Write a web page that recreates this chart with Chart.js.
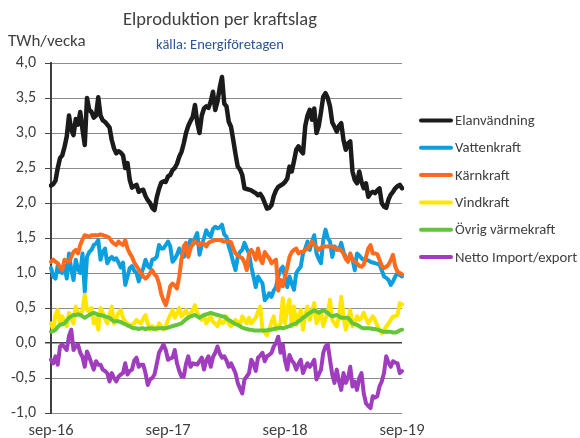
<!DOCTYPE html>
<html>
<head>
<meta charset="utf-8">
<script src="https://cdn.jsdelivr.net/npm/chart.js@4.4.1/dist/chart.umd.min.js"></script>
<style>
html,body{margin:0;padding:0;background:#fff;}
#wrap{position:relative;width:580px;height:438px;}
canvas{display:block;}
</style>
</head>
<body>
<div id="wrap"><canvas id="c" width="580" height="438"></canvas></div>
<script>
// ---- Data (TWh/vecka, weekly, sep-2016 .. sep-2019) ----
const seriesNames = ['Elanvändning','Vattenkraft','Kärnkraft','Vindkraft','Övrig värmekraft','Netto Import/export'];
const tickLabels = ['sep-16','sep-17','sep-18','sep-19'];
const tickWeeks = [0, 52, 104, 156];
const yTicks = [-1.0,-0.5,0.0,0.5,1.0,1.5,2.0,2.5,3.0,3.5,4.0];

const elanvandning = [
2.25,2.27,2.32,2.50,2.64,2.68,2.80,2.95,3.25,3.05,2.97,3.20,3.12,3.30,3.05,2.83,3.50,3.33,3.30,3.22,
3.25,3.51,3.25,3.18,3.16,3.12,3.08,2.90,2.78,2.71,2.74,2.72,2.68,2.50,2.57,2.33,2.22,2.24,2.26,2.16,
2.18,2.19,2.10,2.04,2.00,1.93,1.90,2.08,2.20,2.29,2.31,2.30,2.38,2.40,2.47,2.50,2.56,2.66,2.73,2.85,
3.00,3.10,3.17,3.23,3.40,3.15,3.00,3.25,3.35,3.38,3.36,3.45,3.59,3.33,3.45,3.65,3.80,3.42,3.38,3.16,
3.09,2.90,2.70,2.52,2.48,2.40,2.21,2.20,2.19,2.18,2.16,2.14,2.11,2.13,2.08,2.00,1.92,1.93,1.97,2.10,
2.18,2.23,2.25,2.27,2.30,2.35,2.52,2.45,2.60,2.76,2.81,2.75,2.71,3.10,3.25,3.33,3.19,3.35,3.00,3.10,
3.30,3.52,3.57,3.50,3.38,3.15,3.09,3.02,3.10,3.14,2.90,2.76,2.85,2.88,2.45,2.33,2.28,2.45,2.30,2.21,
2.28,2.09,2.14,2.16,2.14,2.18,2.21,2.00,1.95,1.93,2.05,2.12,2.16,2.21,2.24,2.26,2.21];

const vattenkraft = [
1.07,0.95,0.92,1.11,1.02,1.00,1.11,0.92,1.28,1.05,0.90,1.19,1.05,1.00,1.28,0.73,1.23,1.30,1.33,1.40,
1.42,1.47,1.19,1.30,1.35,1.14,1.20,1.23,1.19,1.21,1.15,1.08,1.15,0.83,0.95,1.07,1.10,1.03,1.00,0.88,
0.98,1.07,1.19,1.10,1.07,1.19,1.20,1.23,1.40,1.35,1.35,1.40,1.45,1.38,1.16,1.20,1.26,1.35,1.28,1.23,
1.30,1.40,1.47,1.40,1.50,1.57,1.26,1.40,1.50,1.61,1.55,1.52,1.63,1.66,1.64,1.65,1.69,1.55,1.52,1.38,
1.28,1.15,1.04,1.23,1.30,1.33,1.43,1.35,1.28,1.09,0.95,0.80,0.95,0.90,0.85,0.61,0.65,0.71,0.66,0.75,
0.80,0.95,1.05,1.09,0.95,0.80,0.95,0.85,0.76,1.00,1.05,1.09,1.28,1.35,1.45,1.33,1.45,1.54,1.28,1.20,
1.14,1.47,1.62,1.50,1.45,1.23,1.38,1.35,1.33,1.43,1.30,1.23,1.19,1.23,1.20,1.04,1.28,1.25,1.21,1.19,
1.19,1.18,1.16,1.15,1.14,1.13,1.12,1.04,0.95,0.93,0.90,0.83,0.88,0.95,1.00,0.97,0.95];

const karnkraft = [
1.16,1.19,1.16,1.14,1.08,1.04,1.19,1.17,1.16,1.23,1.30,1.33,1.28,1.40,1.48,1.54,1.53,1.52,1.54,1.54,
1.54,1.54,1.55,1.54,1.53,1.52,1.50,1.45,1.42,1.40,1.45,1.42,1.40,1.47,1.35,1.28,1.23,1.15,1.10,1.05,
1.00,0.95,0.92,0.95,1.00,1.04,0.98,0.95,0.85,0.70,0.61,0.54,0.65,0.81,0.85,0.82,0.78,0.95,1.20,1.38,
1.43,1.23,1.35,1.43,1.45,1.42,1.40,1.43,1.42,1.38,1.43,1.45,1.46,1.47,1.47,1.47,1.46,1.45,1.45,1.45,
1.44,1.35,1.28,1.25,1.23,1.21,1.15,1.04,1.28,1.33,1.28,1.19,1.35,1.20,1.14,1.30,1.25,1.21,1.14,1.17,
1.19,0.75,0.90,0.81,0.95,1.08,1.23,1.30,1.33,1.35,1.28,1.30,1.30,1.33,1.35,1.40,1.45,1.40,1.37,1.33,
1.36,1.38,1.38,1.38,1.38,1.38,1.36,1.33,1.35,1.32,1.28,1.20,1.16,1.28,1.19,1.16,1.14,1.10,1.09,1.12,
1.23,1.35,1.40,1.28,1.28,1.27,1.19,1.10,1.07,1.09,1.12,1.18,1.26,1.09,1.02,1.00,0.98];

const vindkraft = [
0.28,0.19,0.40,0.47,0.28,0.38,0.30,0.24,0.43,0.35,0.28,0.52,0.43,0.40,0.47,0.69,0.47,0.45,0.50,0.28,
0.35,0.19,0.50,0.43,0.35,0.28,0.40,0.52,0.28,0.35,0.43,0.47,0.36,0.30,0.28,0.24,0.26,0.28,0.33,0.30,
0.28,0.35,0.40,0.28,0.19,0.24,0.22,0.19,0.28,0.24,0.19,0.24,0.33,0.40,0.47,0.36,0.42,0.50,0.38,0.42,
0.47,0.38,0.42,0.47,0.54,0.43,0.38,0.33,0.38,0.28,0.33,0.38,0.30,0.28,0.24,0.33,0.28,0.30,0.38,0.28,
0.24,0.28,0.33,0.30,0.26,0.38,0.33,0.28,0.36,0.28,0.32,0.36,0.45,0.52,0.19,0.15,0.11,0.19,0.30,0.38,
0.19,0.24,0.28,0.64,0.28,0.50,0.62,0.24,0.52,0.26,0.38,0.47,0.19,0.40,0.52,0.33,0.45,0.57,0.28,0.35,
0.43,0.24,0.35,0.43,0.62,0.33,0.28,0.24,0.38,0.66,0.38,0.19,0.30,0.47,0.24,0.30,0.38,0.33,0.36,0.43,
0.35,0.28,0.33,0.38,0.33,0.25,0.19,0.14,0.18,0.24,0.28,0.33,0.38,0.38,0.40,0.57,0.55];

const ovrigVarmekraft = [
0.16,0.17,0.19,0.23,0.26,0.27,0.28,0.32,0.36,0.38,0.40,0.40,0.41,0.40,0.38,0.36,0.38,0.40,0.42,0.43,
0.42,0.40,0.40,0.39,0.38,0.37,0.36,0.33,0.31,0.31,0.31,0.30,0.28,0.27,0.25,0.24,0.22,0.21,0.21,0.20,
0.21,0.21,0.20,0.21,0.21,0.21,0.20,0.21,0.21,0.21,0.21,0.21,0.22,0.23,0.24,0.25,0.26,0.27,0.28,0.31,
0.34,0.36,0.38,0.39,0.40,0.38,0.36,0.38,0.40,0.41,0.42,0.43,0.42,0.41,0.40,0.39,0.38,0.38,0.35,0.33,
0.31,0.29,0.27,0.26,0.24,0.22,0.21,0.20,0.19,0.19,0.18,0.18,0.18,0.18,0.18,0.18,0.18,0.19,0.19,0.20,
0.21,0.21,0.22,0.21,0.22,0.23,0.24,0.26,0.27,0.28,0.31,0.33,0.36,0.38,0.41,0.43,0.45,0.47,0.45,0.43,
0.45,0.47,0.45,0.43,0.40,0.38,0.39,0.40,0.38,0.36,0.36,0.36,0.36,0.32,0.28,0.27,0.26,0.24,0.22,0.21,
0.21,0.21,0.21,0.20,0.20,0.19,0.18,0.17,0.16,0.16,0.16,0.16,0.15,0.15,0.16,0.18,0.19];

const nettoImportExport = [
-0.24,-0.29,-0.19,-0.31,-0.05,-0.02,-0.06,-0.10,0.10,0.19,-0.10,-0.05,-0.02,-0.14,-0.20,-0.34,-0.12,-0.20,-0.29,-0.38,
-0.26,-0.31,-0.31,-0.38,-0.40,-0.43,-0.55,-0.43,-0.50,-0.55,-0.48,-0.45,-0.43,-0.29,-0.45,-0.40,-0.38,-0.25,-0.21,-0.34,
-0.31,-0.31,-0.43,-0.60,-0.52,-0.50,-0.45,-0.30,-0.14,-0.08,-0.02,-0.10,-0.24,-0.22,-0.21,-0.10,-0.29,-0.40,-0.48,-0.48,
-0.30,-0.19,-0.34,-0.29,-0.30,-0.31,-0.26,-0.21,-0.38,-0.25,-0.19,-0.34,-0.20,-0.14,-0.05,-0.15,-0.21,-0.19,-0.25,-0.34,
-0.29,-0.36,-0.43,-0.57,-0.65,-0.72,-0.52,-0.48,-0.43,-0.24,-0.30,-0.40,-0.21,-0.18,-0.14,-0.26,-0.19,-0.17,-0.14,-0.05,
0.00,0.09,-0.14,-0.02,-0.25,-0.38,-0.17,-0.25,-0.29,-0.38,-0.30,-0.24,-0.43,-0.35,-0.29,-0.34,-0.30,-0.24,-0.52,-0.45,
-0.38,-0.14,-0.05,-0.02,-0.24,-0.45,-0.57,-0.38,-0.55,-0.67,-0.43,-0.57,-0.50,-0.34,-0.62,-0.55,-0.67,-0.50,-0.43,-0.72,
-0.86,-0.90,-0.93,-0.76,-0.78,-0.76,-0.62,-0.55,-0.43,-0.19,-0.28,-0.34,-0.26,-0.28,-0.29,-0.43,-0.40];

// categories: one per week starting first week of Sep 2016
const weeks = [];
(function(){
  const start = new Date(2016, 8, 5);
  for (let i = 0; i < elanvandning.length; i++) {
    const d = new Date(start.getTime() + i * 7 * 86400000);
    weeks.push(d.getFullYear() + '-' + String(d.getMonth()+1).padStart(2,'0') + '-' + String(d.getDate()).padStart(2,'0'));
  }
})();

const colors = ['#1b1b1b','#0b9fe0','#ff6a1c','#ffe600','#62c53a','#a03cbe'];
const allSeries = [elanvandning, vattenkraft, karnkraft, vindkraft, ovrigVarmekraft, nettoImportExport];

const FONT = "Carlito, Lato, 'Liberation Sans', sans-serif";
const TXT = '#404040';

const datasets = allSeries.map((s, k) => ({
  label: seriesNames[k],
  data: s,
  borderColor: colors[k],
  backgroundColor: colors[k],
  borderWidth: k === 0 ? 4.5 : 4,
  pointRadius: 0,
  tension: 0,
  borderJoinStyle: 'round',
  borderCapStyle: 'round',
  order: 6 - k
}));

const decor = {
  id: 'decor',
  afterDraw(chart) {
    const ctx = chart.ctx;
    ctx.save();
    ctx.textBaseline = 'middle';
    // title
    ctx.textAlign = 'center';
    ctx.fillStyle = TXT;
    ctx.font = '18.5px ' + FONT;
    ctx.fillText('Elproduktion per kraftslag', 220, 20);
    ctx.fillStyle = '#2a5596';
    ctx.font = '14.5px ' + FONT;
    ctx.fillText('källa: Energiföretagen', 220, 45);
    // unit label
    ctx.textAlign = 'left';
    ctx.fillStyle = TXT;
    ctx.font = '17px ' + FONT;
    ctx.fillText('TWh/vecka', 8, 42);
    // legend
    ctx.font = '14.7px ' + FONT;
    chart.data.datasets.forEach((ds, k) => {
      const y = 120.5 + k * 27.3;
      ctx.strokeStyle = ds.borderColor;
      ctx.lineWidth = 4;
      ctx.lineCap = 'round';
      ctx.beginPath();
      ctx.moveTo(421, y);
      ctx.lineTo(451, y);
      ctx.stroke();
      ctx.fillStyle = TXT;
      ctx.fillText(ds.label, 455, y + 1);
    });
    ctx.restore();
  }
};

new Chart(document.getElementById('c'), {
  type: 'line',
  data: { labels: weeks, datasets },
  options: {
    responsive: false,
    animation: false,
    devicePixelRatio: 1,
    layout: { padding: { left: 0, top: 63, right: 178, bottom: 0 } },
    plugins: { legend: { display: false }, tooltip: { enabled: false }, title: { display: false } },
    scales: {
      x: {
        type: 'category',
        offset: false,
        grid: { display: false, drawTicks: false },
        border: { display: false },
        afterBuildTicks: (scale) => { scale.ticks = tickWeeks.map(v => ({ value: v })); },
        afterFit: (scale) => { scale.height = 25; },
        ticks: {
          autoSkip: false,
          maxRotation: 0,
          minRotation: 0,
          padding: 8,
          color: TXT,
          font: { family: FONT, size: 16.5 },
          callback: (v) => { const k = tickWeeks.indexOf(v); return k >= 0 ? tickLabels[k] : ''; }
        }
      },
      y: {
        min: -1, max: 4,
        afterBuildTicks: (scale) => { scale.ticks = yTicks.map(v => ({ value: v })); },
        afterFit: (scale) => { scale.width = 51; },
        grid: {
          color: (c) => (c.tick && c.tick.value === 0) ? '#404040' : '#8c8c8c',
          lineWidth: (c) => (c.tick && c.tick.value === 0) ? 1.5 : 1,
          tickColor: '#404040',
          tickLength: 6
        },
        border: { display: true, color: '#404040', width: 2 },
        ticks: {
          padding: 9,
          color: TXT,
          font: { family: FONT, size: 16 },
          callback: (v) => Number(v).toFixed(1).replace('.', ',')
        }
      }
    }
  },
  plugins: [decor]
});
</script>
</body>
</html>
